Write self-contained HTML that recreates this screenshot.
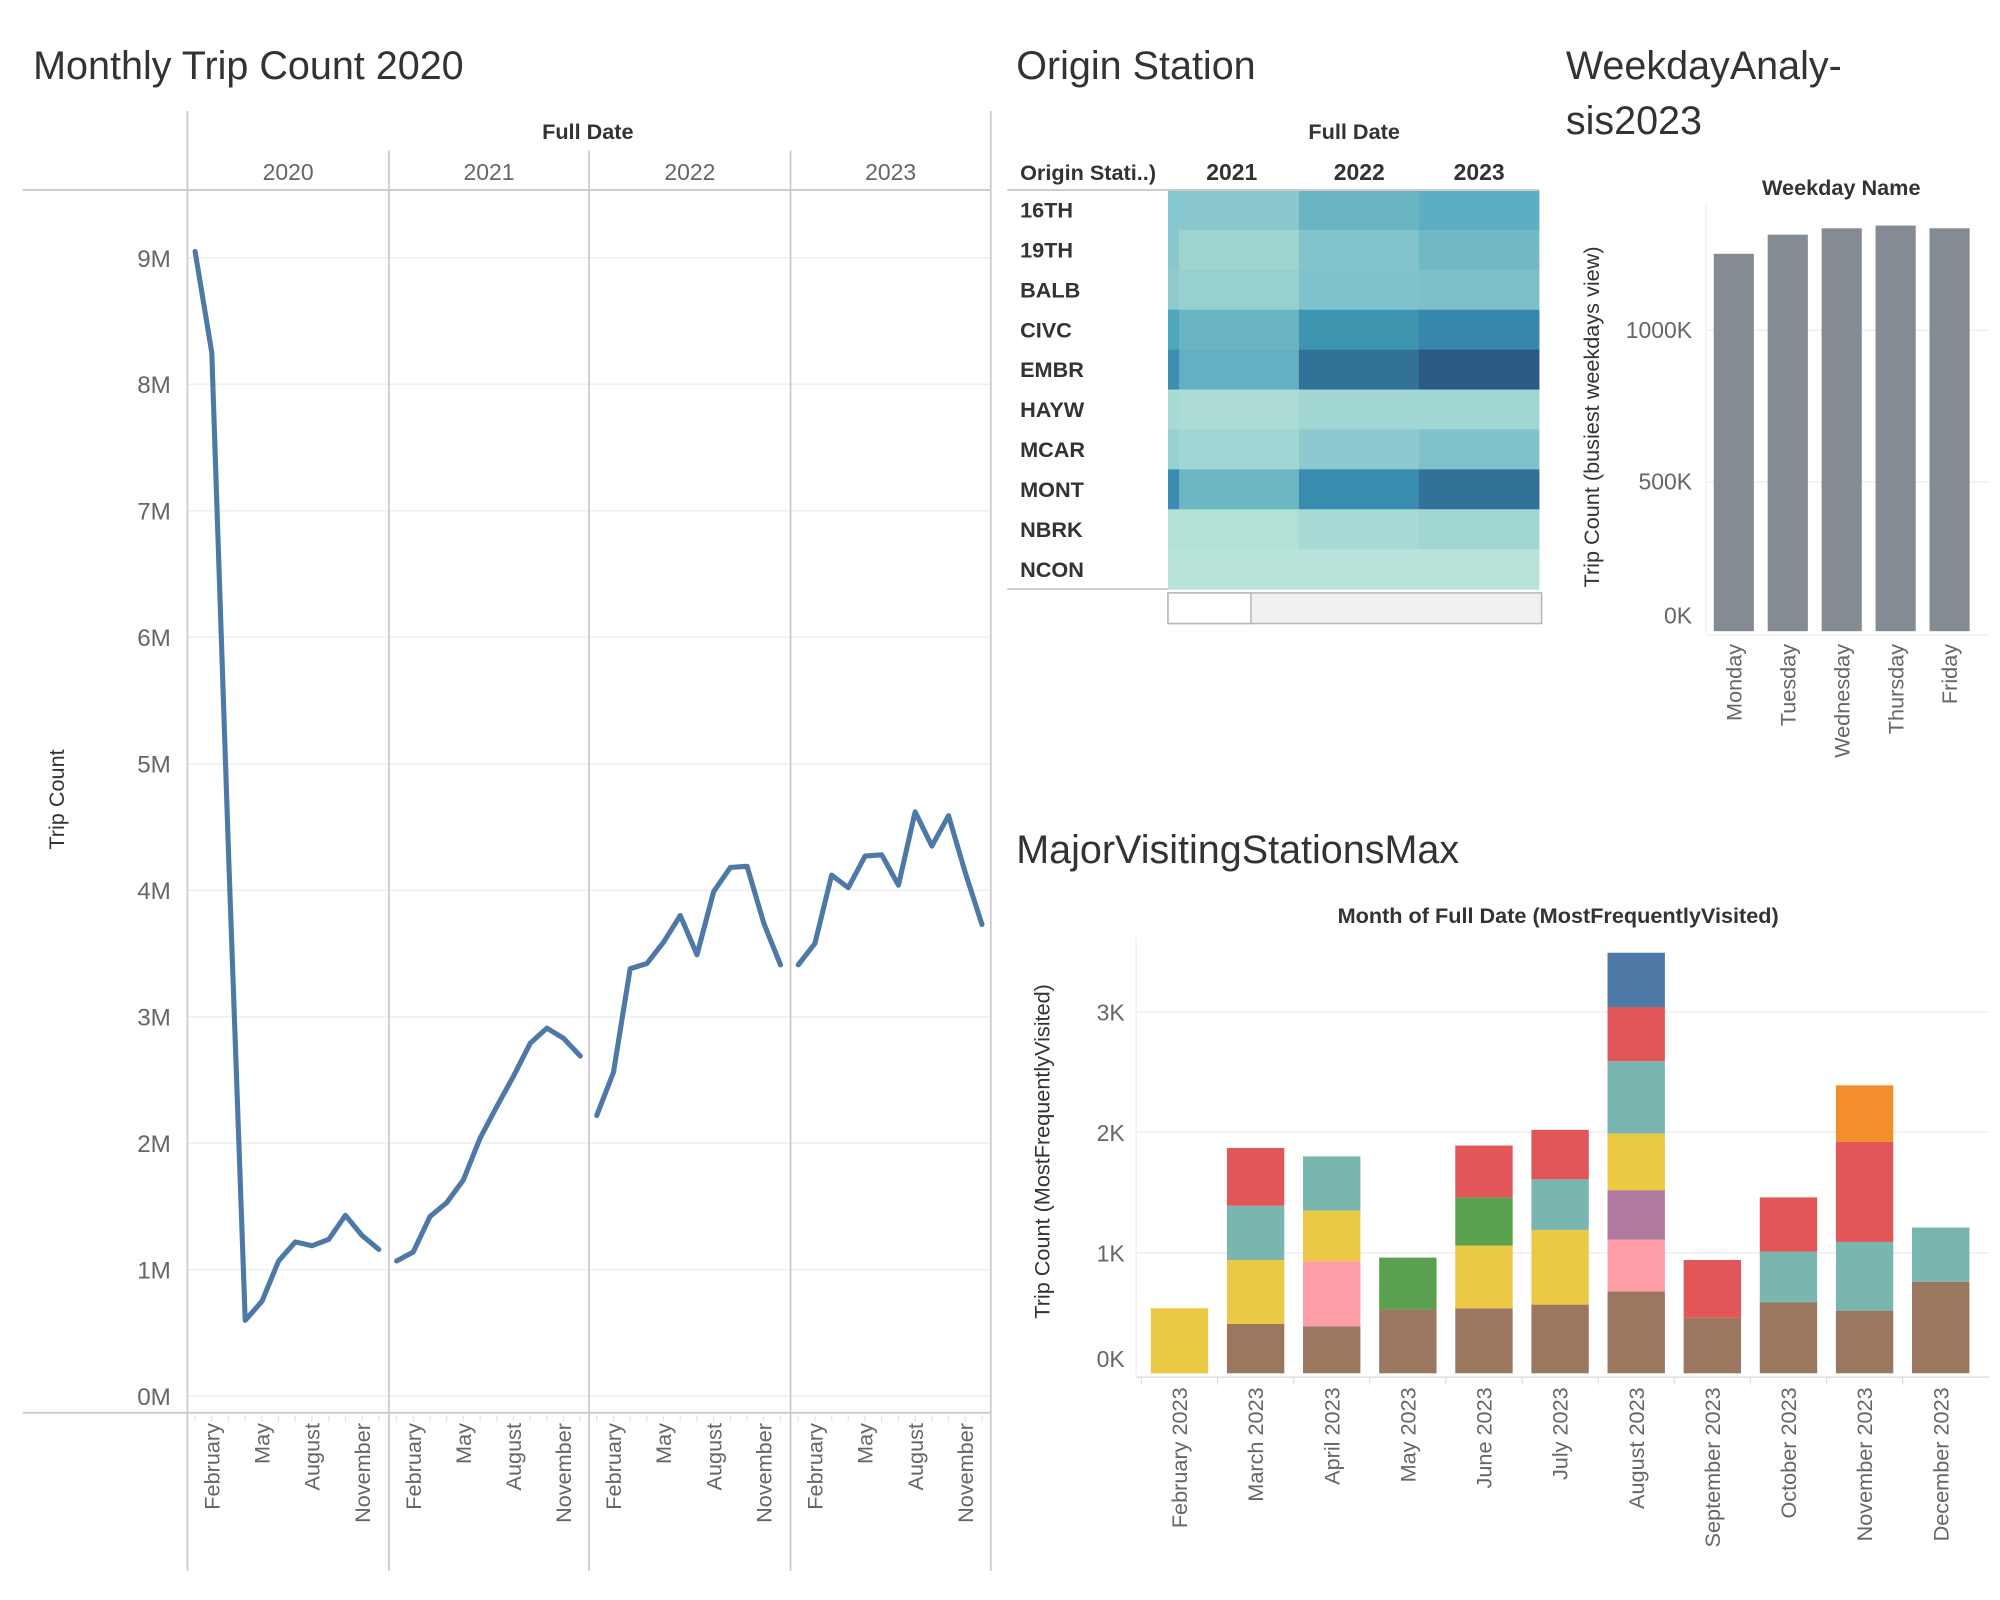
<!DOCTYPE html>
<html><head><meta charset="utf-8"><style>
html,body{margin:0;padding:0;background:#fff;}
svg{display:block;font-family:"Liberation Sans",sans-serif;}
</style></head><body>
<svg id="dash" width="2000" height="1600" viewBox="0 0 1568.5 1254.8" xmlns="http://www.w3.org/2000/svg">
<g id="line-chart"></g>
<g id="heatmap"></g>
<g id="weekday"></g>
<g id="stacked"></g>
</svg>
<script>
// ---------- Line chart data ----------
const lineYears = ["2020","2021","2022","2023"];
const monthNames = ["January","February","March","April","May","June","July","August","September","October","November","December"];
const trips2020 = [9.05,8.25,4.3,0.6,0.75,1.07,1.22,1.19,1.24,1.43,1.27,1.16];
const trips2021 = [1.07,1.14,1.42,1.53,1.71,2.04,2.29,2.53,2.79,2.91,2.83,2.69];
const trips2022 = [2.22,2.56,3.38,3.42,3.59,3.80,3.49,3.99,4.18,4.19,3.74,3.41];
const trips2023 = [3.41,3.58,4.12,4.02,4.27,4.28,4.04,4.62,4.35,4.59,4.14,3.73];
const lineTicks = [0,1,2,3,4,5,6,7,8,9];
// ---------- Heatmap data ----------
const stations = ["16TH","19TH","BALB","CIVC","EMBR","HAYW","MCAR","MONT","NBRK","NCON"];
const heatYears = ["2021","2022","2023"];
const heatStrip = ["#87c7cf","#8ac8cf","#8fcbd0","#4fa6bf","#3a8fb0","#a9dad4","#97d0d1","#3a8db0","#b2e1d8","#b7e3da"];
const heat2021 = ["#8ac8cf","#9fd5d1","#97d0d1","#6ab5c3","#62b0c1","#acdcd5","#a0d6d3","#6db6c3","#b2e1d8","#b7e3da"];
const heat2022 = ["#6ab5c3","#83c4cc","#80c2cb","#3e95b0","#327298","#a2d6d2","#8ccad0","#378cb0","#a7dad4","#b7e3da"];
const heat2023 = ["#5daec2","#72b9c6","#7ec0ca","#3687ab","#2d5986","#a2d6d2","#80c2cb","#327298","#a2d6d2","#b7e3da"];
// ---------- Weekday data ----------
const weekdays = ["Monday","Tuesday","Wednesday","Thursday","Friday"];
const weekdayTrips = [1252,1315,1336,1345,1336];
const weekdayTicks = [0,500,1000];
// ---------- Stacked bar data ----------
const stackMonths = ["February 2023","March 2023","April 2023","May 2023","June 2023","July 2023","August 2023","September 2023","October 2023","November 2023","December 2023"];
const sBrown  = [0,0.41,0.39,0.53,0.54,0.57,0.68,0.46,0.59,0.52,0.76];
const sPink   = [0,0,0.54,0,0,0,0.43,0,0,0,0];
const sPurple = [0,0,0,0,0,0,0.41,0,0,0,0];
const sYellow = [0.54,0.53,0.42,0,0.52,0.62,0.47,0,0,0,0];
const sGreen  = [0,0,0,0.43,0.40,0,0,0,0,0,0];
const sTeal   = [0,0.45,0.45,0,0,0.42,0.60,0,0.42,0.57,0.45];
const sRed    = [0,0.48,0,0,0.43,0.41,0.45,0.48,0.45,0.83,0];
const sBlue   = [0,0,0,0,0,0,0.45,0,0,0,0];
const sOrange = [0,0,0,0,0,0,0,0,0,0.47,0];
const stackTicks = [0,1,2,3];

const NS="http://www.w3.org/2000/svg";
function mk(parent,tag,attrs,text){const e=document.createElementNS(NS,tag);for(const k in attrs)e.setAttribute(k,attrs[k]);if(text!==undefined)e.textContent=text;parent.appendChild(e);return e;}

// ===== LINE CHART =====
(function(){
const g=document.getElementById('line-chart');
let t=mk(g,'text',{x:26,y:62,'font-size':31,fill:'#333'},'Monthly Trip Count 2020');


const panelX=[147,305,462,620,777];
const y0=1095, perM=99.2;
const yScale=v=>y0-v*perM;
const xScale=(p,m)=>panelX[p]+6+m*13.1;
lineTicks.forEach(v=>{
 let l=mk(g,'line',{x1:147,x2:777,y1:yScale(v),y2:yScale(v),stroke:'#efefef','stroke-width':1.2});
 
 
 let tx=mk(g,'text',{x:134,y:yScale(v)+7,'text-anchor':'end','font-size':19,fill:'#666'},v+'M');
 
 
});
mk(g,'line',{x1:18,x2:777,y1:149,y2:149,stroke:'#ccc','stroke-width':1.5});
mk(g,'line',{x1:18,x2:777,y1:1108,y2:1108,stroke:'#ccc','stroke-width':1.5});
panelX.forEach((x,i)=>{
 mk(g,'line',{x1:x,x2:x,y1:(i==0||i==4)?87:118,y2:1232,stroke:'#c8c8c8','stroke-width':1.3});
});
let fd=mk(g,'text',{x:461,y:109,'text-anchor':'middle','font-size':17,fill:'#333','font-weight':'bold'},'Full Date');


const series=[trips2020,trips2021,trips2022,trips2023];
lineYears.forEach((yr,p)=>{
 let yt=mk(g,'text',{x:(panelX[p]+panelX[p+1])/2,y:141,'text-anchor':'middle','font-size':18,fill:'#666'},yr);
 
 
 const pts=series[p].map((v,m)=>xScale(p,m).toFixed(1)+','+yScale(v).toFixed(1)).join(' ');
 let pl=mk(g,'polyline',{points:pts,fill:'none',stroke:'#4e79a7','stroke-width':4,'stroke-linejoin':'round','stroke-linecap':'round'});
 
 
 for(let m=0;m<12;m++){
   mk(g,'line',{x1:xScale(p,m),x2:xScale(p,m),y1:1110,y2:1115,stroke:'#e6e6e6','stroke-width':1});
 }
 [1,4,7,10].forEach(m=>{
  const x=xScale(p,m)+6;
  let lb=mk(g,'text',{x:0,y:0,transform:`translate(${x},1116) rotate(-90)`,'text-anchor':'end','font-size':17,fill:'#666'},monthNames[m]);
  
  
 });
});
let yt=mk(g,'text',{transform:'translate(50,627) rotate(-90)','text-anchor':'middle','font-size':17,fill:'#333'},'Trip Count');


})();

// ===== HEATMAP =====
(function(){
const g=document.getElementById('heatmap');
let t=mk(g,'text',{x:797,y:62,'font-size':31,fill:'#333'},'Origin Station');


let fd=mk(g,'text',{x:1062,y:109,'text-anchor':'middle','font-size':17,fill:'#333','font-weight':'bold'},'Full Date');


let oh=mk(g,'text',{x:800,y:141,'font-size':17,fill:'#333','font-weight':'bold'},'Origin Stati..)');


const colX=[925,1019,1113], colW=94;
heatYears.forEach((y,i)=>{
 let e=mk(g,'text',{x:colX[i]+colW/2+(i==0?-6:0),y:141,'text-anchor':'middle','font-size':18,fill:'#333','font-weight':'bold'},y);
 
 
});
const top=149, rh=31.3;
const cols=[heat2021,heat2022,heat2023];
stations.forEach((s,r)=>{
 const y=top+r*rh;
 let lb=mk(g,'text',{x:800,y:y+rh/2+6,'font-size':17,fill:'#333','font-weight':'bold'},s);
 
 
 let st=mk(g,'rect',{x:916,y:y,width:9.5,height:rh+0.5,fill:heatStrip[r]});
 
 
 cols.forEach((c,i)=>{
  let rc=mk(g,'rect',{x:colX[i]-0.3,y:y,width:colW+0.6,height:rh+0.5,fill:c[r]});
  
  
 });
});
mk(g,'line',{x1:790,x2:1207,y1:149,y2:149,stroke:'#ccc','stroke-width':1.5});
mk(g,'line',{x1:790,x2:916,y1:462,y2:462,stroke:'#ccc','stroke-width':1.5});
let sb=mk(g,'rect',{x:916,y:465,width:293,height:24,fill:'#f0f0f0',stroke:'#b8b8b8','stroke-width':1.2});


let th=mk(g,'rect',{x:916,y:465,width:65,height:24,fill:'#fff',stroke:'#b8b8b8','stroke-width':1.2});


})();

// ===== WEEKDAY =====
(function(){
const g=document.getElementById('weekday');
let t1=mk(g,'text',{x:1228,y:62,'font-size':31,fill:'#333'},'WeekdayAnaly-');


let t2=mk(g,'text',{x:1228,y:105,'font-size':31,fill:'#333'},'sis2023');


let hd=mk(g,'text',{x:1444,y:153,'text-anchor':'middle','font-size':17,fill:'#333','font-weight':'bold'},'Weekday Name');


const base=497, per=0.238;
const yS=v=>base-v*per;
weekdayTicks.forEach(v=>{
 if(v>0) mk(g,'line',{x1:1338,x2:1560,y1:yS(v),y2:yS(v),stroke:'#efefef','stroke-width':1.2});
 let tx=mk(g,'text',{x:1327,y:yS(v)+(v==0?-8:6),'text-anchor':'end','font-size':18,fill:'#666'},v+'K');
 
 
});
mk(g,'line',{x1:1338,x2:1338,y1:160,y2:497,stroke:'#eee','stroke-width':1});
mk(g,'line',{x1:1338,x2:1560,y1:498,y2:498,stroke:'#eee','stroke-width':1});
const bx0=1344, step=42.3, bw=31.5;
weekdays.forEach((d,i)=>{
 const x=bx0+i*step;
 let b=mk(g,'rect',{x:x,y:yS(weekdayTrips[i]),width:bw,height:weekdayTrips[i]*per-2,fill:'#858b93'});
 
 
 let lb=mk(g,'text',{transform:`translate(${x+bw/2+6},505) rotate(-90)`,'text-anchor':'end','font-size':17,fill:'#666'},d);
 
 
});
let yt=mk(g,'text',{transform:'translate(1254,327) rotate(-90)','text-anchor':'middle','font-size':17,fill:'#333'},'Trip Count (busiest weekdays view)');


})();

// ===== STACKED =====
(function(){
const g=document.getElementById('stacked');
let t=mk(g,'text',{x:797,y:677,'font-size':31,fill:'#333'},'MajorVisitingStationsMax');


let st=mk(g,'text',{x:1222,y:724,'text-anchor':'middle','font-size':17,fill:'#333','font-weight':'bold'},'Month of Full Date (MostFrequentlyVisited)');


const base=1077, per=94.5;
const yS=v=>base-v*per;
stackTicks.forEach(v=>{
 if(v>0) mk(g,'line',{x1:891,x2:1560,y1:yS(v),y2:yS(v),stroke:'#efefef','stroke-width':1.2});
 let tx=mk(g,'text',{x:882,y:yS(v)+(v==0?-5:7),'text-anchor':'end','font-size':18,fill:'#666'},v+'K');
 
 
});
mk(g,'line',{x1:891,x2:891,y1:735,y2:1078,stroke:'#eee','stroke-width':1});
mk(g,'line',{x1:891,x2:1560,y1:1080,y2:1080,stroke:'#ddd','stroke-width':1.2});
const series=[[sBrown,'#9c7760','brown'],[sPink,'#ff9da6','pink'],[sPurple,'#b07aa1','purple'],[sYellow,'#ebc944','yellow'],[sGreen,'#59a14f','green'],[sTeal,'#79b6b0','teal'],[sRed,'#e15759','red'],[sBlue,'#4e79a7','blue'],[sOrange,'#f28e2b','orange']];
const cx0=925, step=59.7, bw=45;
stackMonths.forEach((m,i)=>{
 const cx=cx0+i*step;
 mk(g,'line',{x1:cx-step/2,x2:cx-step/2,y1:1080,y2:1086,stroke:'#ddd','stroke-width':1});
 let acc=0;
 series.forEach(([arr,col,nm])=>{
  const v=arr[i]; if(!v) return;
  let r=mk(g,'rect',{x:cx-bw/2,y:yS(acc+v),width:bw,height:v*per,fill:col});
  
  
  acc+=v;
 });
 let lb=mk(g,'text',{transform:`translate(${cx+6},1088) rotate(-90)`,'text-anchor':'end','font-size':17,fill:'#666'},m);
 
 
});
let yt=mk(g,'text',{transform:'translate(823,903) rotate(-90)','text-anchor':'middle','font-size':17,fill:'#333'},'Trip Count (MostFrequentlyVisited)');


})();
</script>
</body></html>
